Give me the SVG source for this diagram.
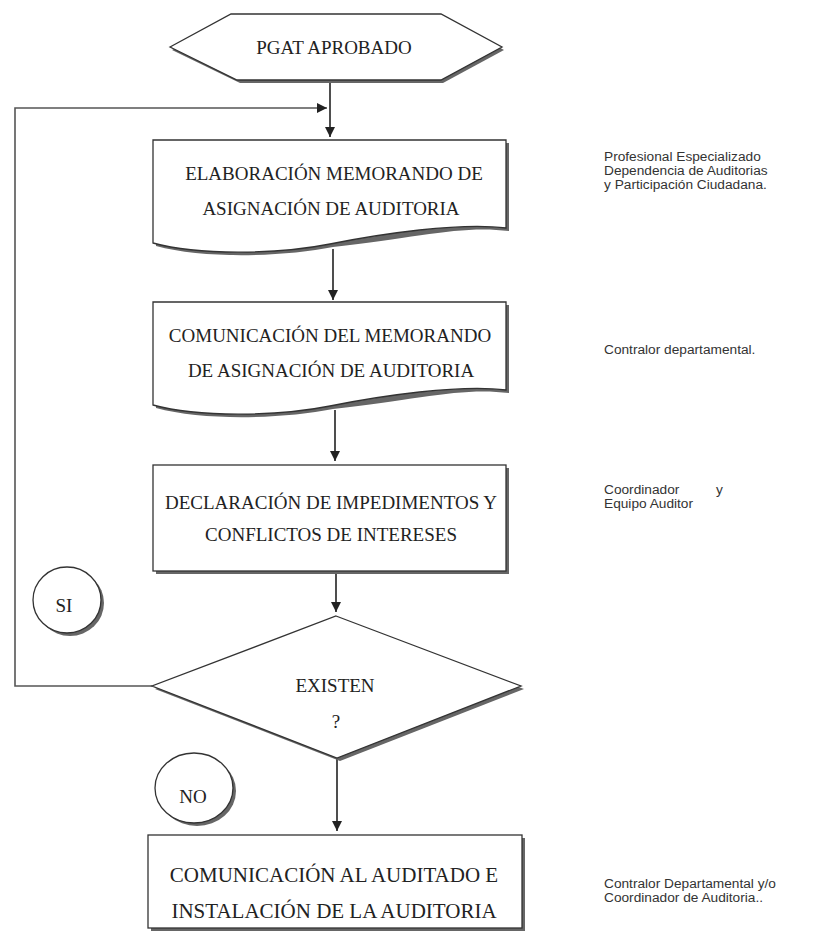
<svg xmlns="http://www.w3.org/2000/svg" width="832" height="933" viewBox="0 0 832 933">
<defs>
<style>
.shape{fill:#fff;stroke:#333;stroke-width:1.3}
.shadow{fill:#666;stroke:none}
.t{font-family:"Liberation Serif","Times New Roman",serif;font-size:19px;fill:#222;text-anchor:middle}
.t2{font-family:"Liberation Serif","Times New Roman",serif;font-size:21px;fill:#222;text-anchor:middle}
.r{font-family:"Liberation Sans",Arial,sans-serif;font-size:13.7px;fill:#333}
.c{fill:none;stroke:#222;stroke-width:1.6}
.loop{fill:none;stroke:#555;stroke-width:1.6}
</style>
<marker id="ah" viewBox="0 0 10 10" refX="10" refY="5" markerWidth="10" markerHeight="10" markerUnits="userSpaceOnUse" orient="auto">
<path d="M0,0 L10,5 L0,10 Z" fill="#222"/>
</marker>
</defs>
<rect width="832" height="933" fill="#fff"/>

<g id="connectors">
<line class="c" x1="330" y1="80" x2="330" y2="137" marker-end="url(#ah)"/>
<polyline class="loop" points="152,686 15,686 15,108 327,108" marker-end="url(#ah)"/>
<line class="c" x1="333" y1="249" x2="333" y2="300" marker-end="url(#ah)"/>
<line class="c" x1="335" y1="410" x2="335" y2="461" marker-end="url(#ah)"/>
<line class="c" x1="336" y1="572" x2="336" y2="612" marker-end="url(#ah)"/>
<line class="c" x1="337" y1="758" x2="337" y2="831" marker-end="url(#ah)"/>
</g>

<g id="pgat">
<polygon class="shadow" points="172,50 233,17 445,17 504,50 443,83 240,83"/>
<polygon class="shape" points="170,47 231,14 441,14 502,47 441,80 237,80"/>
<text class="t" x="334" y="54">PGAT APROBADO</text>
</g>

<g id="elaboracion">
<path class="shadow" d="M156,143 H509 V231 C 463,225 420,237 333,247 C 283,257 203,259 156,246 Z"/>
<path class="shape" d="M153,140 H506 V228 C 460,222 380,234 330,244 C 280,254 200,256 153,243 Z"/>
<text class="t" x="334" y="180">ELABORACIÓN MEMORANDO DE</text>
<text class="t" x="331" y="215">ASIGNACIÓN DE AUDITORIA</text>
</g>

<g id="comunicacion-memorando">
<path class="shadow" d="M156,305 H509 V393 C 463,387 420,399 333,409 C 283,419 203,421 156,408 Z"/>
<path class="shape" d="M153,302 H506 V390 C 460,384 380,396 330,406 C 280,416 200,418 153,405 Z"/>
<text class="t" x="330" y="342">COMUNICACIÓN DEL MEMORANDO</text>
<text class="t" x="331" y="377">DE ASIGNACIÓN DE AUDITORIA</text>
</g>

<g id="declaracion">
<rect class="shadow" x="156" y="468" width="353" height="106"/>
<rect class="shape" x="153" y="465" width="353" height="106"/>
<text class="t" x="331" y="509">DECLARACIÓN DE IMPEDIMENTOS Y</text>
<text class="t" x="331" y="541">CONFLICTOS DE INTERESES</text>
</g>

<g id="existen">
<polygon class="shadow" points="339,619 524,689 340,761 155,689"/>
<polygon class="shape" points="336,616 521,686 337,758 152,686"/>
<text class="t" x="335" y="692">EXISTEN</text>
<text class="t" x="336" y="728">?</text>
</g>

<g id="si">
<ellipse class="shadow" cx="70" cy="603" rx="34" ry="33"/>
<ellipse class="shape" cx="67" cy="600" rx="34" ry="33"/>
<text class="t" x="64" y="612">SI</text>
</g>

<g id="no">
<ellipse class="shadow" cx="197" cy="791" rx="39" ry="35"/>
<ellipse class="shape" cx="194" cy="788" rx="39" ry="35"/>
<text class="t" x="193" y="803">NO</text>
</g>

<g id="comunicacion-auditado">
<rect class="shadow" x="151" y="838" width="374" height="93"/>
<rect class="shape" x="148" y="835" width="374" height="93"/>
<text class="t2" x="334" y="882">COMUNICACIÓN AL AUDITADO  E</text>
<text class="t2" x="334" y="918">INSTALACIÓN  DE LA AUDITORIA</text>
</g>

<g id="responsables">
<text class="r" x="604" y="161">Profesional Especializado</text>
<text class="r" x="604" y="175">Dependencia de Auditorias</text>
<text class="r" x="604" y="189">y Participación Ciudadana.</text>
<text class="r" x="604" y="354">Contralor departamental.</text>
<text class="r" x="604" y="494">Coordinador</text>
<text class="r" x="716" y="494">y</text>
<text class="r" x="604" y="508">Equipo Auditor</text>
<text class="r" x="604" y="888">Contralor Departamental y/o</text>
<text class="r" x="604" y="902">Coordinador de Auditoria..</text>
</g>
</svg>
